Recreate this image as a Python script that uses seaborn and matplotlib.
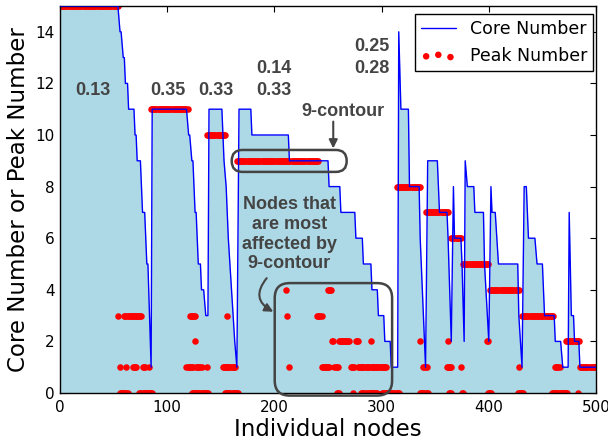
import matplotlib
matplotlib.use('Agg')
import matplotlib.pyplot as plt
import seaborn as sns
from matplotlib.patches import FancyBboxPatch

# ---------------- data ----------------
# Core number line: vertices (node index, core number)
core_nodes = [0, 54, 56, 57, 59, 60, 61, 63, 64, 69,
              70, 71, 72, 75, 77, 79, 81, 82, 85, 86,
              118, 120, 121, 123, 124, 126, 127, 129, 131, 132,
              134, 136, 138, 139, 151, 153, 155, 157, 160, 163,
              165, 167, 178, 179, 213, 214, 250, 251, 261, 262,
              275, 276, 282, 283, 290, 291, 296, 297, 302, 303,
              308, 309, 315, 316, 318, 325, 326, 335, 336, 338,
              341, 343, 352, 353, 354, 361, 362, 365, 367, 368,
              374, 375, 377, 378, 380, 386, 387, 395, 396, 400,
              402, 403, 406, 409, 427, 428, 431, 433, 435, 437,
              443, 445, 450, 451, 452, 461, 462, 467, 469, 474,
              475, 477, 479, 480, 484, 485, 500]
core_vals = [15, 15, 14, 14, 13, 13, 12, 12, 11, 11,
             10, 10, 9, 9, 7, 7, 5, 5, 1, 11,
             11, 10, 10, 9, 9, 7, 7, 5, 5, 4,
             4, 3, 3, 11, 11, 9, 8, 6, 4, 2,
             1, 11, 11, 10, 10, 9, 9, 8, 8, 7,
             7, 6, 6, 5, 5, 4, 4, 3, 3, 2,
             2, 1, 1, 14, 11, 11, 8, 8, 6, 4,
             1, 9, 9, 8, 7, 7, 6, 2, 8, 6,
             6, 5, 2, 9, 8, 8, 7, 7, 5, 2,
             8, 7, 7, 5, 5, 3, 1, 8, 8, 6,
             6, 5, 5, 4, 3, 3, 2, 2, 1, 1,
             7, 3, 3, 2, 2, 1, 1]

# Peak number: runs of consecutive nodes (first node, last node, peak number)
peak_start = [0, 85, 137, 165, 314, 341, 365, 376, 401, 431, 472, 485,
              211, 250,
              54, 60, 121, 156, 212, 240,
              126, 254, 260, 276, 290, 336, 362, 398,
              56, 62, 68, 77, 83, 118, 127, 137, 152, 214, 244, 256,
              271, 278, 290, 339, 361, 374, 428, 462,
              56, 74, 123, 154, 258, 273, 281, 288, 300, 336, 363,
              375, 399, 427, 459, 483]
peak_end = [54, 119, 154, 241, 336, 362, 374, 399, 428, 460, 484, 500,
            211, 253,
            54, 76, 126, 156, 212, 244,
            126, 255, 270, 278, 290, 336, 362, 399,
            56, 62, 71, 79, 83, 124, 132, 137, 163, 214, 251, 259,
            274, 288, 304, 342, 365, 374, 428, 466,
            63, 86, 138, 166, 260, 273, 286, 296, 316, 343, 365,
            376, 402, 432, 473, 483]
peak_value = [15, 11, 10, 9, 8, 7, 6, 5, 4, 3, 2, 1,
              4, 4,
              3, 3, 3, 3, 3, 3,
              2, 2, 2, 2, 2, 2, 2, 2,
              1, 1, 1, 1, 1, 1, 1, 1, 1, 1, 1, 1,
              1, 1, 1, 1, 1, 1, 1, 1,
              0, 0, 0, 0, 0, 0, 0, 0, 0, 0, 0,
              0, 0, 0, 0, 0]

x_ticks = [0, 100, 200, 300, 400, 500]
y_ticks = [0, 2, 4, 6, 8, 10, 12, 14]

peak_x, peak_y = [], []
for s, e, v in zip(peak_start, peak_end, peak_value):
    for n in range(s, e + 1):
        peak_x.append(n)
        peak_y.append(v)

# ---------------- style ----------------
sns.set_style('ticks')
plt.rcParams.update({
    'font.family': ['DejaVu Sans'],
    'xtick.direction': 'in', 'ytick.direction': 'in',
    'xtick.top': True, 'ytick.right': True,
    'axes.edgecolor': 'black', 'axes.linewidth': 1.0,
    'xtick.color': 'black', 'ytick.color': 'black',
    'axes.labelcolor': 'black', 'text.color': 'black',
})

W, H = 608, 444
fig = plt.figure(figsize=(W / 100, H / 100), dpi=100)
ax = fig.add_axes([60 / W, 1 - 393 / H, 536 / W, 387 / H])

ax.fill_between(core_nodes, core_vals, 0, color='#add8e6', lw=0, zorder=1)
sns.scatterplot(x=peak_x, y=peak_y, color='red', s=22, linewidth=0,
                ax=ax, zorder=2, label='Peak Number')
sns.lineplot(x=core_nodes, y=core_vals, estimator=None, sort=False,
             color='blue', lw=1.0, ax=ax, zorder=3, label='Core Number')

ax.set_xlim(0, 500)
ax.set_ylim(0, 15)
ax.set_xticks(x_ticks)
ax.set_yticks(y_ticks)
ax.tick_params(axis='both', labelsize=11, length=4, width=0.8)
ax.tick_params(axis='x', pad=5)
ax.tick_params(axis='y', pad=4)
ax.set_xlabel('Individual nodes', fontsize=16.5, labelpad=2)
ax.set_ylabel('Core Number or Peak Number', fontsize=16.5, labelpad=4)
for sp in ax.spines.values():
    sp.set_visible(True)
    sp.set_color('black')

h, l = ax.get_legend_handles_labels()
order = [l.index('Core Number'), l.index('Peak Number')]
leg = ax.legend([h[i] for i in order], [l[i] for i in order],
                loc='upper right', bbox_to_anchor=(0.9944, 0.979),
                borderaxespad=0, fontsize=12.5, fancybox=False,
                framealpha=1, edgecolor='black', scatterpoints=3,
                scatteryoffsets=[0.375, 0.5, 0.3125],
                handlelength=2.0, borderpad=0.35)
leg.get_frame().set_linewidth(1.0)

# ---------------- annotations ----------------
ann_col = '#444444'
afont = dict(family=['Liberation Sans', 'DejaVu Sans'], weight='bold',
             color=ann_col, fontsize=13, ha='center', va='center')
ax.text(30.5, 11.72, '0.13', **afont)
ax.text(100.4, 11.72, '0.35', **afont)
ax.text(145, 11.72, '0.33', **afont)
ax.text(199.9, 12.15, '0.14\n0.33', linespacing=1.4, **afont)
ax.text(291, 13.0, '0.25\n0.28', linespacing=1.4, **afont)
ax.text(264, 10.9, '9-contour', **afont)
ax.text(214, 6.15, 'Nodes that\nare most\naffected by\n9-contour',
        linespacing=1.2, **afont)

aspect = (536 / 500) / (387 / 15)
box1 = FancyBboxPatch((160.2, 8.57), 107.2, 0.85,
                      boxstyle='round,pad=0,rounding_size=10',
                      mutation_aspect=aspect, transform=ax.transData,
                      fill=False, ec=ann_col, lw=1.8, zorder=5, clip_on=False)
ax.add_patch(box1)
box2 = FancyBboxPatch((200.3, -0.1), 109.5, 4.36,
                      boxstyle='round,pad=0,rounding_size=14',
                      mutation_aspect=aspect, transform=ax.transData,
                      fill=False, ec=ann_col, lw=1.8, zorder=5, clip_on=False)
ax.add_patch(box2)

ax.annotate('', xy=(254.9, 9.48), xytext=(254.9, 10.52),
            arrowprops=dict(arrowstyle='-|>,head_length=0.5,head_width=0.25',
                            color=ann_col, lw=1.5, shrinkA=0, shrinkB=0),
            zorder=6)
ax.annotate('', xy=(199.0, 3.15), xytext=(192.8, 4.45),
            arrowprops=dict(arrowstyle='-|>,head_length=0.5,head_width=0.25',
                            connectionstyle='arc3,rad=0.6',
                            color=ann_col, lw=1.5, shrinkA=0, shrinkB=0),
            zorder=6)

fig.savefig('out.png', dpi=100)
